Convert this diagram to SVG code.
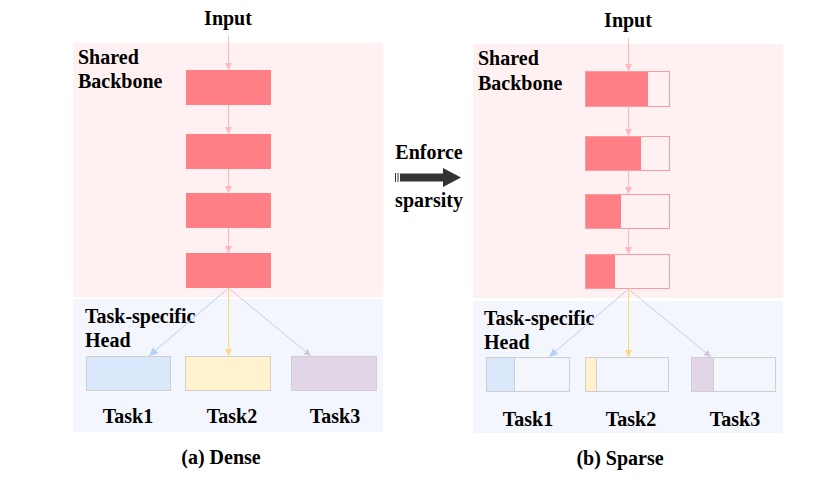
<svg xmlns="http://www.w3.org/2000/svg" width="834" height="481" viewBox="0 0 834 481">
<style>
text{font-family:'Liberation Serif','Times New Roman',serif;font-weight:700;fill:#000;font-size:20px}
.c{text-anchor:middle}
.bb{fill:#fff1f1}
.hb{fill:#f4f6fe}
.red{fill:#ff7f86}
.rout{fill:none;stroke:#ff9aa0;stroke-width:1}
.tb{fill:#dae8fc;stroke:#cfcfcf;stroke-width:1}
.ty{fill:#fff2cc;stroke:#cfcfcf;stroke-width:1}
.tp{fill:#e1d5e7;stroke:#cfcfcf;stroke-width:1}
.te{fill:#f4f6fe;stroke:#cfcfcf;stroke-width:1}
.lp{stroke:#ffb8bd;stroke-width:1;fill:none}
.lb{stroke:#b7d0f7;stroke-width:1;fill:none}
.ly{stroke:#ffd77a;stroke-width:1;fill:none}
.lv{stroke:#d6c6e0;stroke-width:1;fill:none}
</style>
<defs>
<marker id="mp" markerWidth="8" markerHeight="8" refX="7" refY="4" orient="auto" markerUnits="userSpaceOnUse"><path d="M0,0.5 L7,4 L0,7.5 Z" fill="#ffb8bd"/></marker>
<marker id="mb" markerWidth="10" markerHeight="10" refX="9" refY="5" orient="auto" markerUnits="userSpaceOnUse"><path d="M0,1 L9,5 L0,9 Z" fill="#b7d0f7"/></marker>
<marker id="my" markerWidth="8" markerHeight="8" refX="7" refY="4" orient="auto" markerUnits="userSpaceOnUse"><path d="M0,0.5 L7,4 L0,7.5 Z" fill="#ffd77a"/></marker>
<marker id="mv" markerWidth="8" markerHeight="8" refX="7" refY="4" orient="auto" markerUnits="userSpaceOnUse"><path d="M0,0.5 L7,4 L0,7.5 Z" fill="#d6c6e0"/></marker>
</defs>

<g id="panel-a">
<rect id="a-backbone-bg" class="bb" x="73" y="43" width="310" height="254"/>
<rect id="a-head-bg" class="hb" x="73" y="299" width="310" height="133"/>
<text x="78" y="64">Shared</text>
<text x="78" y="88">Backbone</text>
<text x="85" y="323">Task-specific</text>
<text x="85" y="347">Head</text>
<text class="c" x="221" y="464">(a) Dense</text>
</g>

<g id="a-input"><text class="c" x="228" y="25">Input</text></g>
<g id="a-l1"><rect class="red" x="186" y="70" width="85" height="35"/></g>
<g id="a-l2"><rect class="red" x="186" y="134" width="85" height="35"/></g>
<g id="a-l3"><rect class="red" x="186" y="193" width="85" height="35"/></g>
<g id="a-l4"><rect class="red" x="186" y="253" width="85" height="35"/></g>
<g id="a-task1"><rect class="tb" x="86.5" y="356.5" width="84" height="34"/><text class="c" x="128" y="423">Task1</text></g>
<g id="a-task2"><rect class="ty" x="185.5" y="356.5" width="85" height="34"/><text class="c" x="232" y="423">Task2</text></g>
<g id="a-task3"><rect class="tp" x="291.5" y="356.5" width="85" height="34"/><text class="c" x="335" y="423">Task3</text></g>

<g id="panel-b">
<rect id="b-backbone-bg" class="bb" x="473" y="44" width="310" height="254"/>
<rect id="b-head-bg" class="hb" x="473" y="301" width="310" height="132"/>
<text x="478" y="65">Shared</text>
<text x="478" y="90">Backbone</text>
<text x="484" y="325">Task-specific</text>
<text x="484" y="349">Head</text>
<text class="c" x="620" y="465">(b) Sparse</text>
</g>

<g id="b-input"><text class="c" x="628" y="27">Input</text></g>
<g id="b-l1"><rect class="red" x="585" y="71" width="63" height="36"/><rect class="rout" x="585.5" y="71.5" width="84" height="35"/></g>
<g id="b-l2"><rect class="red" x="585" y="136" width="56" height="35"/><rect class="rout" x="585.5" y="136.5" width="84" height="34"/></g>
<g id="b-l3"><rect class="red" x="585" y="194" width="36" height="35"/><rect class="rout" x="585.5" y="194.5" width="84" height="34"/></g>
<g id="b-l4"><rect class="red" x="585" y="254" width="30" height="35"/><rect class="rout" x="585.5" y="254.5" width="84" height="34"/></g>
<g id="b-task1"><rect class="te" x="486.5" y="357.5" width="83" height="34"/><rect class="tb" x="486.5" y="357.5" width="28" height="34"/><text class="c" x="528" y="426">Task1</text></g>
<g id="b-task2"><rect class="te" x="585.5" y="357.5" width="83" height="34"/><rect class="ty" x="585.5" y="357.5" width="11" height="34"/><text class="c" x="631" y="426">Task2</text></g>
<g id="b-task3"><rect class="te" x="691.5" y="357.5" width="84" height="34"/><rect class="tp" x="691.5" y="357.5" width="22" height="34"/><text class="c" x="735" y="426">Task3</text></g>

<g id="enforce">
<text class="c" x="429" y="159">Enforce</text>
<rect x="395" y="173" width="1" height="9" fill="#333"/>
<rect x="397.5" y="173" width="1" height="9" fill="#333"/>
<path d="M400,173.5 L443,173.5 L443,168 L461,177.5 L443,187 L443,181.5 L400,181.5 Z" fill="#333"/>
<text class="c" x="429" y="207">sparsity</text>
</g>

<g id="connectors">
<line class="lp" x1="228.5" y1="36" x2="228.5" y2="70" marker-end="url(#mp)"/>
<line class="lp" x1="228.5" y1="105" x2="228.5" y2="134" marker-end="url(#mp)"/>
<line class="lp" x1="228.5" y1="169" x2="228.5" y2="193" marker-end="url(#mp)"/>
<line class="lp" x1="228.5" y1="228" x2="228.5" y2="253" marker-end="url(#mp)"/>
<line class="lb" x1="228.5" y1="288" x2="149" y2="356" marker-end="url(#mb)"/>
<line class="ly" x1="228.5" y1="288" x2="228.5" y2="356" marker-end="url(#my)"/>
<line class="lv" x1="228.5" y1="288" x2="311" y2="356" marker-end="url(#mv)"/>

<line class="lp" x1="628.5" y1="38" x2="628.5" y2="71" marker-end="url(#mp)"/>
<line class="lp" x1="628.5" y1="107" x2="628.5" y2="136" marker-end="url(#mp)"/>
<line class="lp" x1="628.5" y1="171" x2="628.5" y2="194" marker-end="url(#mp)"/>
<line class="lp" x1="628.5" y1="229" x2="628.5" y2="254" marker-end="url(#mp)"/>
<line class="lb" x1="628.5" y1="289" x2="549" y2="357" marker-end="url(#mb)"/>
<line class="ly" x1="628.5" y1="289" x2="628.5" y2="357" marker-end="url(#my)"/>
<line class="lv" x1="628.5" y1="289" x2="711" y2="357" marker-end="url(#mv)"/>
</g>
</svg>
